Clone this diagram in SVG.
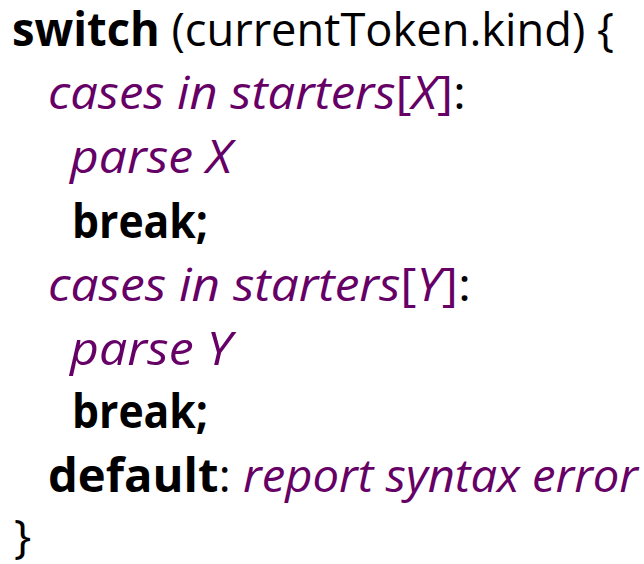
<svg xmlns="http://www.w3.org/2000/svg" width="644" height="564" viewBox="0 0 644 564">
<style>
text{font-family:"Open Sans",Lato,sans-serif;font-size:46px;fill:#000;white-space:pre}
.b{font-weight:bold}
.p{fill:#660066;font-style:italic}
.q{fill:#660066}
</style>
<rect width="644" height="564" fill="#fff"/>
<text x="12" y="46" textLength="602" lengthAdjust="spacingAndGlyphs"><tspan class="b">switch</tspan> (currentToken.kind) {</text>
<text x="48" y="109" textLength="418" lengthAdjust="spacingAndGlyphs"><tspan class="p">cases in starters</tspan><tspan class="q">[</tspan><tspan class="p">X</tspan><tspan class="q">]</tspan>:</text>
<text x="70" y="173" class="p" textLength="162" lengthAdjust="spacingAndGlyphs">parse X</text>
<text x="72" y="238" class="b" textLength="136" lengthAdjust="spacingAndGlyphs">break;</text>
<text x="48" y="301" textLength="423" lengthAdjust="spacingAndGlyphs"><tspan class="p">cases in starters</tspan><tspan class="q">[</tspan><tspan class="p">Y</tspan><tspan class="q">]</tspan>:</text>
<text x="70" y="365" class="p" textLength="162" lengthAdjust="spacingAndGlyphs">parse Y</text>
<text x="72" y="428" class="b" textLength="136" lengthAdjust="spacingAndGlyphs">break;</text>
<text x="48" y="492" textLength="590" lengthAdjust="spacingAndGlyphs"><tspan class="b">default</tspan>: <tspan class="p">report syntax error</tspan></text>
<text x="14" y="553">}</text>
</svg>
